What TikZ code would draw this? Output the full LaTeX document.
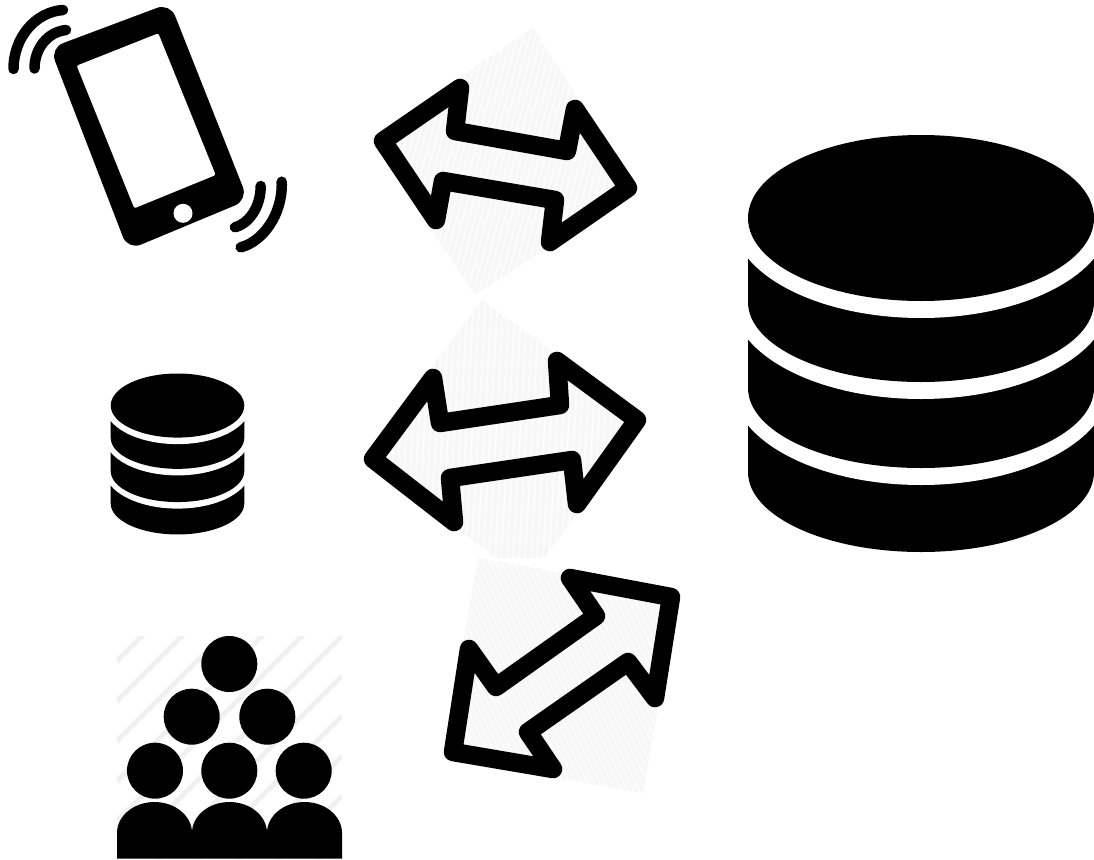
\documentclass[tikz,border=0pt]{standalone}
\definecolor{panegray}{HTML}{F7F7F7}
\definecolor{panestripe}{HTML}{FCFCFC}
\definecolor{bandgray}{HTML}{F0F0F0}
\begin{document}
\begin{tikzpicture}[
  x=1pt,
  y=-1pt,
  pane/.style={fill=panegray, draw=none},
  stripeline/.style={panestripe, line width=2pt},
  bandline/.style={bandgray, line width=5pt},
  twoway/.style={draw=black, line width=18.5pt, line join=round},
  wave/.style={draw=black, line width=10.5pt, line cap=round},
  solid black/.style={fill=black, draw=none},
  gap white/.style={fill=white, draw=none}
]
\useasboundingbox (0,0) rectangle (1094,859);

\begin{scope}
  \clip (533,28) -- (637,190) -- (475,295) -- (370,138) -- cycle;
  \fill[pane] (360,20) rectangle (650,300);
  \foreach \s in {360,366,...,700} \draw[stripeline] (\s,20) -- (\s-75,300);
\end{scope}
\begin{scope}
  \clip (482,300) -- (648,420) -- (544,558) -- (497,558) -- (362,460) -- cycle;
  \fill[pane] (355,295) rectangle (655,560);
  \foreach \s in {360,366,...,680} \draw[stripeline] (\s,295) -- (\s-15,560);
\end{scope}
\begin{scope}
  \clip (478,558) -- (678,593) -- (643,793) -- (443,758) -- cycle;
  \fill[pane] (440,555) rectangle (680,795);
  \foreach \s in {300,306,...,680} \draw[stripeline] (\s,555) -- (\s+120,795);
\end{scope}

\draw[twoway] (383,141) -- (460,88) -- (455,131) -- (567,151) -- (575,109) -- (628,188)
  -- (550,242) -- (555,200) -- (443,181) -- (436,220) -- cycle;
\draw[twoway] (373,459) -- (433,378) -- (440,423) -- (560,405) -- (557,361) -- (637,420)
  -- (577,504) -- (572,460) -- (450,478) -- (454,522) -- cycle;
\draw[twoway] (570,578) -- (671,597) -- (655,698) -- (628,662) -- (528,732) -- (553,769)
  -- (453,752) -- (469,649) -- (496,687) -- (596,616) -- cycle;

\fill[solid black, rounded corners=14pt] (50,48) -- (170,3) -- (248,200) -- (128,250) -- cycle;
\fill[gap white, rounded corners=2pt] (76.7,65.7) -- (158.3,33.3) -- (215.7,175) -- (134.3,208.3) -- cycle;
\fill[gap white] (183,213.3) circle (9.5);
\draw[wave] (13.5,69) .. controls (13.5,38) and (35,12) .. (63,10);
\draw[wave] (34.5,68.5) .. controls (34.5,48) and (48,32) .. (66,30);
\draw[wave] (260.7,186) .. controls (260.7,208) and (248,224) .. (235,227.3);
\draw[wave] (281.7,181.7) .. controls (283,215) and (262,242) .. (240.7,247.3);

\foreach \px/\py/\sc in {921/135/1, 177.5/373.5/0.386} {
  \begin{scope}[shift={(\px,\py)}, scale=\sc]
    \fill[solid black] (-173,250) -- (-173,337) arc[start angle=180, end angle=0, x radius=173, y radius=80] -- (173,250) -- cycle;
    \fill[gap white] (0,250) ellipse (189 and 100);
    \fill[solid black] (-173,164) -- (-173,253) arc[start angle=180, end angle=0, x radius=173, y radius=80] -- (173,164) -- cycle;
    \fill[gap white] (0,164) ellipse (189 and 100);
    \fill[solid black] (-173,83) -- (-173,167) arc[start angle=180, end angle=0, x radius=173, y radius=80] -- (173,83) -- cycle;
    \fill[gap white] (0,83) ellipse (189 and 100);
    \fill[solid black] (0,83) ellipse (173 and 83);
  \end{scope}
}

\begin{scope}
  \clip (117,636) rectangle (342,858.5);
  \foreach \s in {778,818,...,1178} \draw[bandline] (117,\s-117) -- (342,\s-342);
\end{scope}
\foreach \cx/\cy in {229.3/664, 191.7/716.7, 267.3/716.7, 155/770.7, 229.3/770.7, 303.7/770.7}
  \fill[solid black] (\cx,\cy) circle (28);
\foreach \bx in {154.5,229.5,304.5}
  \fill[solid black] (\bx-37.5,858.5) -- (\bx-37.5,833) arc[start angle=180, end angle=360, x radius=37.5, y radius=31] -- (\bx+37.5,858.5) -- cycle;
\end{tikzpicture}
\end{document}
